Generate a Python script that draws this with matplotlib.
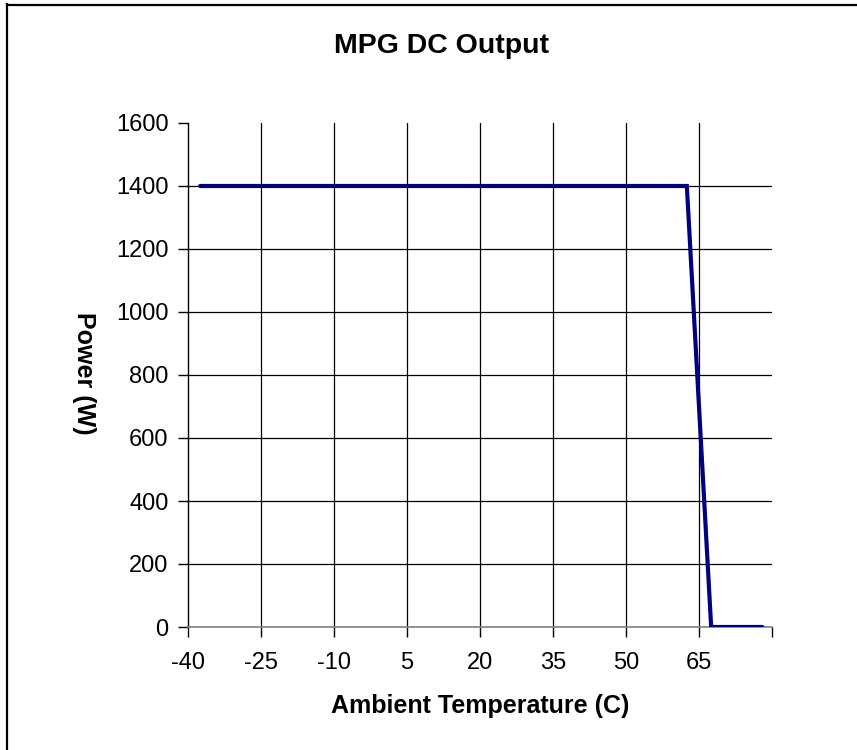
import matplotlib.pyplot as plt
from matplotlib.lines import Line2D

# donnees
temperature = [-37.5, 62.5, 67.5, 78.0]
puissance = [1400, 1400, 0, 0]

x_ticks = [-40, -25, -10, 5, 20, 35, 50, 65, 80]
x_labels = ['-40', '-25', '-10', '5', '20', '35', '50', '65', '']
y_ticks = [0, 200, 400, 600, 800, 1000, 1200, 1400, 1600]

plt.rcParams['font.family'] = ['Liberation Sans', 'DejaVu Sans']

fig = plt.figure(figsize=(8.57, 7.5), dpi=100)
ax = fig.add_axes([188/857, 123/750, 584/857, 504/750])

ax.plot(temperature, puissance, color='#000080', linewidth=3.0,
        solid_capstyle='round', solid_joinstyle='miter', zorder=3)

ax.set_xlim(-40, 80)
ax.set_ylim(0, 1600)
ax.set_xticks(x_ticks)
ax.set_xticklabels(x_labels)
ax.set_yticks(y_ticks)
ax.tick_params(labelsize=17, direction='out', length=7, width=1, color='black')
ax.tick_params(axis='x', pad=11)
ax.tick_params(axis='y', pad=7)

# grille noire sauf en haut
for t in x_ticks[1:-1]:
    ax.axvline(t, color='black', linewidth=0.9, zorder=1)
for t in y_ticks[1:-1]:
    ax.axhline(t, color='black', linewidth=0.9, zorder=1)

ax.spines['top'].set_visible(False)
ax.spines['right'].set_visible(False)
ax.spines['left'].set_linewidth(1)
ax.spines['bottom'].set_color('#808080')
ax.spines['bottom'].set_linewidth(1.2)

fig.text(441/857, 1 - 53/750, 'MPG DC Output', ha='center', va='baseline',
         fontsize=20.5, fontweight='bold')
fig.text(480/857, 1 - 713/750, 'Ambient Temperature (C)', ha='center', va='baseline',
         fontsize=18, fontweight='bold')
fig.text(84/857, 1 - 373/750, 'Power (W)', ha='center', va='center',
         fontsize=18, fontweight='bold', rotation=-90)

# cadre (seulement bord gauche et haut visibles)
fig.add_artist(Line2D([7/857, 7/857], [0, 1 - 4/750], transform=fig.transFigure,
                      color='black', linewidth=1.6))
fig.add_artist(Line2D([7/857, 1], [1 - 5/750, 1 - 5/750], transform=fig.transFigure,
                      color='black', linewidth=1.6))

fig.savefig('out.png', dpi=100)
